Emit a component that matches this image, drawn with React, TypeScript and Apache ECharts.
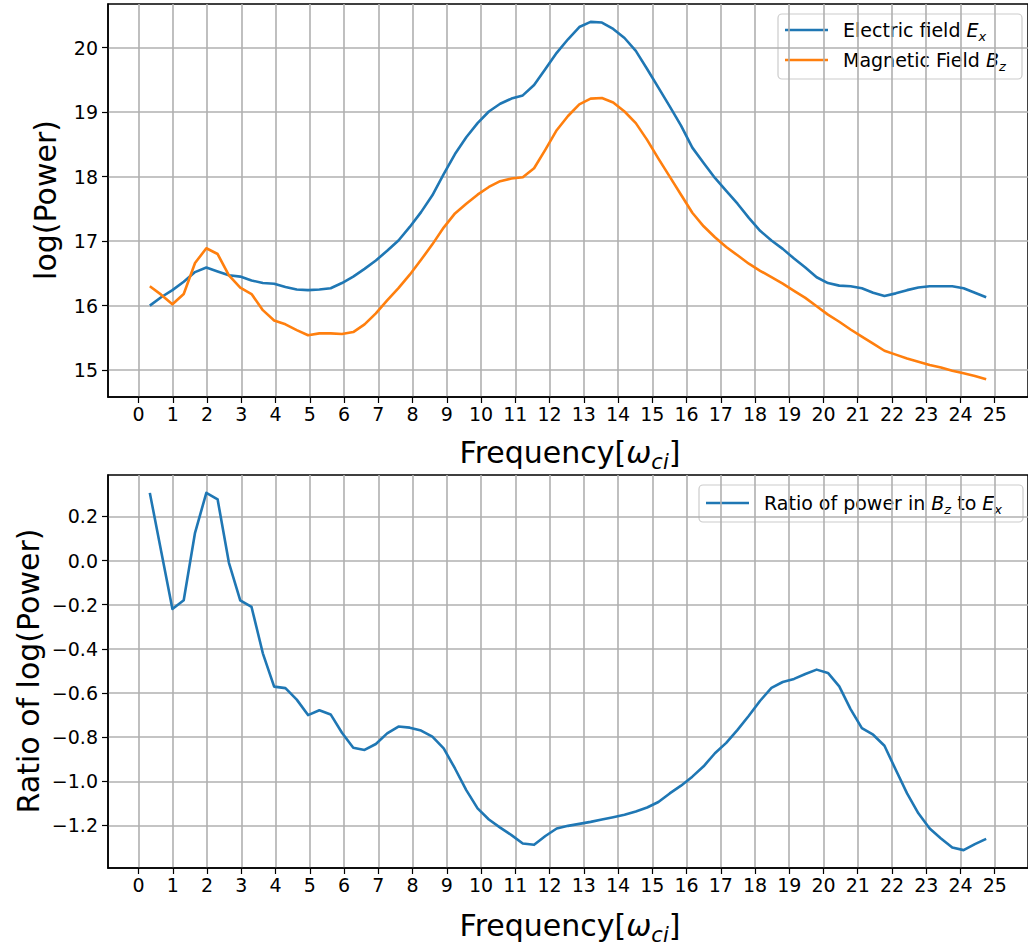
import React, { useEffect, useRef } from "react";
import * as echarts from "echarts";

const freq = [
  0.33, 0.66, 0.99, 1.32, 1.65, 1.98, 2.31, 2.64, 2.97, 3.3, 3.63, 3.96, 4.29, 4.62, 4.95,
  5.28, 5.61, 5.94, 6.27, 6.6, 6.93, 7.26, 7.59, 7.92, 8.25, 8.58, 8.91, 9.24, 9.57, 9.9,
  10.23, 10.56, 10.89, 11.22, 11.55, 11.88, 12.21, 12.54, 12.87, 13.2, 13.53, 13.86, 14.19, 14.52, 14.85,
  15.18, 15.51, 15.84, 16.17, 16.5, 16.83, 17.16, 17.49, 17.82, 18.15, 18.48, 18.81, 19.14, 19.47, 19.8,
  20.13, 20.46, 20.79, 21.12, 21.45, 21.78, 22.11, 22.44, 22.77, 23.1, 23.43, 23.76, 24.09, 24.42, 24.75,
];

const electricField = [
  16.0, 16.13, 16.24, 16.37, 16.52, 16.59, 16.53, 16.47, 16.45, 16.39, 16.35, 16.34, 16.29, 16.25, 16.24,
  16.25, 16.27, 16.35, 16.45, 16.57, 16.7, 16.85, 17.01, 17.22, 17.45, 17.71, 18.04, 18.35, 18.61, 18.83,
  19.01, 19.13, 19.21, 19.26, 19.42, 19.67, 19.92, 20.13, 20.32, 20.4, 20.39, 20.29, 20.15, 19.95, 19.67,
  19.38, 19.09, 18.79, 18.45, 18.21, 17.98, 17.78, 17.58, 17.36, 17.16, 17.01, 16.88, 16.73, 16.59, 16.44,
  16.35, 16.31, 16.3, 16.27, 16.2, 16.15, 16.19, 16.24, 16.28, 16.3, 16.3, 16.3, 16.27, 16.2, 16.13,
];

const magneticField = [
  16.3, 16.17, 16.02, 16.18, 16.66, 16.89, 16.8, 16.47, 16.28, 16.18, 15.93, 15.77, 15.71, 15.62, 15.54,
  15.57, 15.57, 15.56, 15.59, 15.71, 15.88, 16.08, 16.27, 16.48, 16.71, 16.95, 17.21, 17.43, 17.58, 17.72,
  17.84, 17.93, 17.97, 17.99, 18.13, 18.42, 18.72, 18.94, 19.12, 19.21, 19.22, 19.15, 19.01, 18.83, 18.57,
  18.28, 18.0, 17.72, 17.44, 17.23, 17.06, 16.91, 16.78, 16.65, 16.54, 16.44, 16.34, 16.23, 16.12, 15.99,
  15.86, 15.75, 15.63, 15.52, 15.41, 15.3, 15.24, 15.18, 15.13, 15.08, 15.04, 14.99, 14.95, 14.91, 14.86,
];

const powerRatio = [
  0.307, 0.044, -0.219, -0.18, 0.126, 0.307, 0.277, -0.01, -0.18, -0.21, -0.42, -0.571, -0.578, -0.63, -0.7,
  -0.678, -0.697, -0.78, -0.848, -0.858, -0.831, -0.783, -0.752, -0.757, -0.77, -0.798, -0.851, -0.942, -1.04, -1.123,
  -1.173, -1.21, -1.244, -1.282, -1.288, -1.248, -1.214, -1.202, -1.193, -1.184, -1.173, -1.163, -1.152, -1.137, -1.119,
  -1.094, -1.055, -1.02, -0.979, -0.932, -0.873, -0.826, -0.767, -0.703, -0.635, -0.577, -0.55, -0.536, -0.514, -0.494,
  -0.509, -0.57, -0.673, -0.759, -0.789, -0.839, -0.948, -1.055, -1.145, -1.214, -1.259, -1.3, -1.312, -1.285, -1.261,
];

const xTicks = [0, 1, 2, 3, 4, 5, 6, 7, 8, 9, 10, 11, 12, 13, 14, 15, 16, 17, 18, 19, 20, 21, 22, 23, 24, 25];
const topYTicks = [15, 16, 17, 18, 19, 20];
const bottomYTicks = [-1.2, -1.0, -0.8, -0.6, -0.4, -0.2, 0.0, 0.2];

const FONT = "'DejaVu Sans', sans-serif";
const BLUE = "#1f77b4";
const ORANGE = "#ff7f0e";

function xAxisCfg(gridIndex: number) {
  return {
    gridIndex,
    type: "value",
    min: -0.891,
    max: 25.971,
    axisLine: { show: true, onZero: false, lineStyle: { color: "#000", width: 1.5 } },
    axisTick: { show: true, customValues: xTicks, length: 6, lineStyle: { color: "#000", width: 1.2 } },
    axisLabel: {
      customValues: xTicks,
      fontSize: 19,
      fontFamily: FONT,
      color: "#000",
      margin: 7,
      formatter: (v: number) => String(Math.round(v)),
    },
    splitLine: { show: true, lineStyle: { color: "#b0b0b0", width: 1.6 } },
  };
}

function yAxisCfg(gridIndex: number, min: number, max: number, ticks: number[], digits: number) {
  return {
    gridIndex,
    type: "value",
    min,
    max,
    axisLine: { show: true, onZero: false, lineStyle: { color: "#000", width: 1.5 } },
    axisTick: { show: true, customValues: ticks, length: 6, lineStyle: { color: "#000", width: 1.2 } },
    axisLabel: {
      customValues: ticks,
      fontSize: 19,
      fontFamily: FONT,
      color: "#000",
      margin: 10,
      formatter: (v: number) => {
        const r = Math.round(v * 10) / 10;
        const s = (r === 0 ? 0 : r).toFixed(digits);
        return s.replace("-", "\u2212");
      },
    },
    splitLine: { show: true, lineStyle: { color: "#b0b0b0", width: 1.6 } },
  };
}

function legendRow(y: number, x0: number, color: string, richText: string) {
  return [
    {
      type: "line",
      shape: { x1: x0, y1: y, x2: x0 + 43, y2: y },
      style: { stroke: color, lineWidth: 2.6 },
    },
    {
      type: "text",
      x: x0 + 58,
      y,
      style: {
        text: richText,
        verticalAlign: "middle",
        align: "left",
        fill: "#000",
        rich: {
          n: { fontSize: 19, fontFamily: FONT, color: "#000", lineHeight: 30, verticalAlign: "middle" },
          i: { fontSize: 19, fontFamily: FONT, fontStyle: "italic", color: "#000", lineHeight: 30, verticalAlign: "middle" },
          s: {
            fontSize: 13,
            fontFamily: FONT,
            fontStyle: "italic",
            color: "#000",
            verticalAlign: "middle",
            padding: [12, 0, 0, 0],
          },
        },
      },
    },
  ];
}

function freqTitle(y: number) {
  return {
    type: "text",
    x: 570,
    y,
    style: {
      text: "{n|Frequency[}{i|\u03c9}{s|ci}{n|]}",
      align: "center",
      verticalAlign: "middle",
      fill: "#000",
      rich: {
        n: { fontSize: 30, fontFamily: FONT, color: "#000", lineHeight: 50, verticalAlign: "middle" },
        i: { fontSize: 30, fontFamily: FONT, fontStyle: "italic", color: "#000", lineHeight: 50, verticalAlign: "middle" },
        s: {
          fontSize: 21,
          fontFamily: FONT,
          fontStyle: "italic",
          color: "#000",
          verticalAlign: "middle",
          padding: [19, 0, 0, 0],
        },
      },
    },
  };
}

export default function App() {
  const ref = useRef<HTMLDivElement>(null);

  useEffect(() => {
    if (!ref.current) return;
    const chart = echarts.init(ref.current, null, { renderer: "svg" });

    const exData = freq.map((f, i) => [f, electricField[i]]);
    const bzData = freq.map((f, i) => [f, magneticField[i]]);
    const ratioData = freq.map((f, i) => [f, powerRatio[i]]);

    const lineSeries = (data: number[][], color: string, xi: number, yi: number, name: string) => ({
      type: "line",
      name,
      xAxisIndex: xi,
      yAxisIndex: yi,
      data,
      showSymbol: false,
      symbol: "none",
      lineStyle: { color, width: 2.6, join: "round", cap: "butt" },
      itemStyle: { color },
      z: 5,
    });

    chart.setOption({
      animation: false,
      backgroundColor: "#fff",
      grid: [
        { left: 108, top: 4, width: 928, height: 393, show: true, borderColor: "#000", borderWidth: 1.5, backgroundColor: "transparent" },
        { left: 108, top: 475, width: 928, height: 393, show: true, borderColor: "#000", borderWidth: 1.5, backgroundColor: "transparent" },
      ],
      xAxis: [xAxisCfg(0), xAxisCfg(1)],
      yAxis: [
        yAxisCfg(0, 14.583, 20.677, topYTicks, 0),
        yAxisCfg(1, -1.393, 0.388, bottomYTicks, 1),
      ],
      series: [
        lineSeries(exData, BLUE, 0, 0, "Electric field Ex"),
        lineSeries(bzData, ORANGE, 0, 0, "Magnetic Field Bz"),
        lineSeries(ratioData, BLUE, 1, 1, "Ratio of power in Bz to Ex"),
      ],
      graphic: [
        {
          type: "text",
          x: 45,
          y: 200,
          rotation: Math.PI / 2,
          style: { text: "log(Power)", fontSize: 30, fontFamily: FONT, fill: "#000", align: "center", verticalAlign: "middle" },
        },
        {
          type: "text",
          x: 28,
          y: 671,
          rotation: Math.PI / 2,
          style: { text: "Ratio of log(Power)", fontSize: 30, fontFamily: FONT, fill: "#000", align: "center", verticalAlign: "middle" },
        },
        freqTitle(452),
        freqTitle(925),
        {
          type: "group",
          z: 100,
          children: [
            {
              type: "rect",
              shape: { x: 778, y: 14, width: 244, height: 65, r: 4 },
              style: { fill: "rgba(255,255,255,0.85)", stroke: "#cccccc", lineWidth: 1.2 },
            },
            ...legendRow(30, 785, BLUE, "{n|Electric field }{i|E}{s|x}"),
            ...legendRow(60, 785, ORANGE, "{n|Magnetic Field }{i|B}{s|z}"),
          ],
        },
        {
          type: "group",
          z: 100,
          children: [
            {
              type: "rect",
              shape: { x: 699, y: 485, width: 324, height: 37, r: 4 },
              style: { fill: "rgba(255,255,255,0.85)", stroke: "#cccccc", lineWidth: 1.2 },
            },
            ...legendRow(503, 706, BLUE, "{n|Ratio of power in }{i|B}{s|z}{n| to }{i|E}{s|x}"),
          ],
        },
      ],
    });

    return () => {
      chart.dispose();
    };
  }, []);

  return (
    <div
      ref={ref}
      style={{ position: "absolute", left: 0, top: 0, width: 1028, height: 945, background: "#fff" }}
    />
  );
}
